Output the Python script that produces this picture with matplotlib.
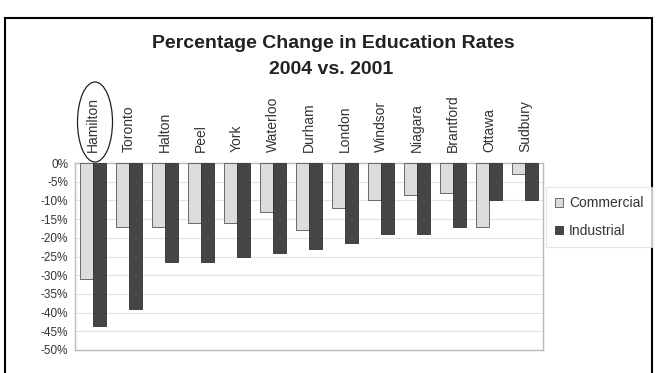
import matplotlib
matplotlib.use("Agg")
import matplotlib.pyplot as plt
import numpy as np
from matplotlib.patches import Ellipse, Rectangle

cities = ["Hamilton", "Toronto", "Halton", "Peel", "York", "Waterloo",
          "Durham", "London", "Windsor", "Niagara", "Brantford", "Ottawa",
          "Sudbury"]
commercial = [-31, -17, -17, -16, -16, -13, -18, -12, -10, -8.5, -8, -17, -3]
industrial = [-43.5, -39, -26.5, -26.5, -25, -24, -23, -21.5, -19, -19, -17,
              -10, -10]
yticks = list(range(0, -55, -5))

plt.rcParams["font.family"] = ["Liberation Sans", "DejaVu Sans"]

fig = plt.figure(figsize=(6.56, 3.73), dpi=100)
ax = fig.add_axes([0.1143, 0.0617, 0.7134, 0.501])

x = np.arange(len(cities))
w = 0.35
ax.bar(x - w / 2, commercial, w, color="#dcdcdc", edgecolor="#555555",
       linewidth=0.6, label="Commercial", zorder=3)
ax.bar(x + w / 2, industrial, w, color="#454545", edgecolor="#333333",
       linewidth=0.6, label="Industrial", zorder=3)

ax.set_xlim(-0.5, len(cities) - 0.5)
ax.set_ylim(-50, 0)
ax.set_yticks(yticks)
ax.set_yticklabels([f"{v}%" for v in yticks], fontsize=8.5, color="#333333")
ax.set_xticks([])
ax.tick_params(axis="y", length=0, pad=5)
ax.yaxis.grid(True, color="#e2e2e2", linewidth=0.8, zorder=0)
for s in ax.spines.values():
    s.set_color("#bbbbbb")
    s.set_linewidth(1.0)

for i, c in enumerate(cities):
    ax.text(i, 1.06, c, transform=ax.get_xaxis_transform(), rotation=90,
            ha="center", va="bottom", fontsize=10, color="#333333")

# circle round Hamilton
fig.add_artist(Ellipse((95 / 656, 1 - 122 / 373), 35 / 656, 80 / 373,
                       transform=fig.transFigure, fill=False,
                       edgecolor="#222222", linewidth=0.9))

fig.text(333 / 656, 1 - 43 / 373, "Percentage Change in Education Rates",
         ha="center", va="center", fontsize=14, fontweight="bold",
         color="#222222")
fig.text(331 / 656, 1 - 70 / 373, "2004 vs. 2001", ha="center",
         va="center", fontsize=14, fontweight="bold", color="#222222")

leg = fig.legend(loc="upper left", bbox_to_anchor=(546 / 656, 1 - 187 / 373),
                 fontsize=10, frameon=True, fancybox=False,
                 handlelength=0.6, handleheight=0.6, handletextpad=0.4,
                 labelspacing=1.0, borderpad=0.65, borderaxespad=0)
leg.get_frame().set_edgecolor("#e0e0e0")
leg.get_frame().set_linewidth(0.8)
for t in leg.get_texts():
    t.set_color("#333333")

# outer frame
fig.add_artist(Rectangle((5 / 656, -0.02), 647 / 656, 1 - 18 / 373 + 0.02,
                         transform=fig.transFigure, fill=False,
                         edgecolor="black", linewidth=1.5))

fig.savefig("out.png", dpi=100)
